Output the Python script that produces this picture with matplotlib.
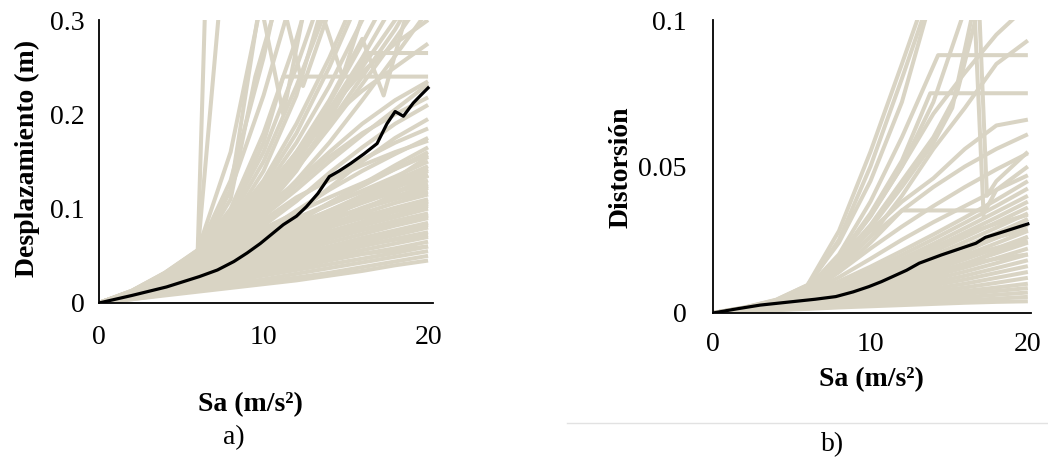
import matplotlib.pyplot as plt

plt.rcParams['font.family'] = ['Liberation Serif', 'DejaVu Serif']

W, H = 1048, 458
BEIGE = '#d9d4c4'
LW = 2.9

# common Sa grid (m/s2) used by most curves
sa_grid = [0, 2, 4, 6, 8, 10, 12, 14, 16, 18, 20]

# ---- panel a) : displacement (m) ----
disp_curves = [
    [0, .004, .008, .012, .016, .020, .024, .029, .034, .040, .045],
    [0, .004, .009, .014, .018, .022, .027, .032, .038, .044, .050],
    [0, .005, .010, .015, .020, .025, .031, .037, .043, .049, .055],
    [0, .005, .011, .017, .023, .029, .035, .041, .047, .053, .060],
    [0, .006, .012, .019, .026, .032, .038, .045, .052, .058, .065],
    [0, .006, .013, .020, .028, .035, .042, .049, .056, .063, .070],
    [0, .007, .014, .022, .030, .038, .045, .052, .060, .068, .075],
    [0, .007, .015, .024, .033, .041, .049, .057, .064, .072, .080],
    [0, .007, .016, .026, .036, .044, .052, .060, .069, .077, .085],
    [0, .008, .017, .028, .038, .047, .055, .064, .073, .082, .090],
    [0, .008, .018, .030, .040, .049, .058, .068, .078, .087, .095],
    [0, .008, .019, .031, .042, .052, .062, .072, .082, .091, .100],
    [0, .009, .020, .033, .045, .055, .065, .076, .086, .097, .105],
    [0, .009, .021, .034, .047, .058, .069, .080, .091, .101, .110],
    [0, .009, .022, .036, .049, .061, .072, .084, .095, .106, .115],
    [0, .010, .023, .038, .052, .064, .076, .088, .100, .111, .122],
    [0, .010, .024, .040, .054, .067, .080, .093, .106, .118, .130],
    [0, .010, .025, .042, .057, .070, .084, .098, .112, .126, .140],
    [0, .011, .026, .044, .060, .074, .089, .104, .119, .134, .150],
    [0, .006, .014, .024, .036, .050, .062, .070, .078, .085, .092],
    [0, .007, .016, .027, .040, .056, .070, .082, .092, .100, .108],
    [0, .008, .018, .030, .044, .062, .080, .095, .108, .118, .126],
    [0, .005, .012, .020, .030, .045, .062, .080, .098, .116, .135],
    [0, .006, .013, .022, .033, .048, .066, .088, .110, .132, .155],
    [0, .009, .021, .035, .050, .066, .085, .106, .126, .146, .165],
    [0, .010, .023, .038, .055, .075, .098, .120, .140, .158, .175],
    [0, .011, .025, .043, .062, .085, .110, .132, .152, .170, .185],
    [0, .008, .019, .032, .048, .070, .095, .122, .150, .175, .195],
    [0, .010, .024, .041, .060, .082, .108, .138, .165, .190, .210],
    [0, .011, .027, .047, .070, .095, .125, .155, .180, .200, .218],
    [0, .012, .028, .050, .075, .100, .128, .160, .190, .215, .235],
    [0, .012, .030, .054, .085, .120, .158, .195, .225, .250, .275],
    [0, .011, .027, .048, .078, .115, .160, .205, .245, .275, .300],
    [0, .005, .011, .018, .026, .034, .040, .046, .052, .056, .060],
    [0, .006, .013, .021, .029, .037, .046, .054, .061, .067, .072],
    [0, .007, .015, .025, .035, .043, .050, .058, .066, .074, .083],
    [0, .008, .017, .027, .036, .046, .057, .068, .077, .085, .093],
    [0, .008, .018, .029, .041, .053, .063, .073, .083, .093, .103],
    [0, .009, .020, .032, .044, .057, .070, .081, .090, .098, .107],
    [0, .009, .021, .035, .048, .060, .073, .087, .101, .113, .124],
    [0, .010, .022, .037, .051, .064, .078, .093, .108, .122, .136],
    [0, .010, .024, .040, .055, .068, .082, .098, .114, .130, .145],
    [0, .011, .025, .042, .058, .072, .088, .106, .124, .142, .160],
    [0, .007, .016, .028, .043, .060, .077, .090, .100, .110, .118],
    [0, .008, .018, .031, .047, .064, .081, .097, .112, .124, .135],
    [0, .009, .020, .034, .052, .072, .090, .105, .118, .130, .142],
    [0, .010, .023, .040, .060, .079, .096, .112, .127, .142, .157],
    [0, .011, .026, .045, .066, .088, .112, .130, .146, .160, .172],
    [0, .013, .032, .056, .160, .330, .500, .600, .700, .800, .900],
    [0, .012, .030, .052, .120, .220, .340, .450, .550, .650, .750],
    [0, .012, .030, .054, .100, .180, .280, .400, .500, .600, .700],
    [0, .011, .028, .050, .090, .150, .230, .320, .420, .520, .620],
    [0, .012, .029, .051, .085, .130, .190, .260, .340, .420, .500],
    [0, .010, .026, .046, .080, .120, .170, .230, .300, .380, .450],
    [0, .011, .027, .048, .075, .110, .155, .205, .260, .320, .400],
    [0, .012, .031, .055, .130, .260, .420, .550, .650, .750, .850],
    [0, .009, .024, .044, .072, .105, .145, .190, .240, .290, .350],
    [0, .010, .025, .045, .074, .108, .150, .200, .250, .300, .330],
    [0, .009, .022, .040, .065, .095, .130, .170, .215, .262, .310],
    [0, .010, .024, .042, .066, .092, .120, .150, .178, .205, .232],
    [0, .012, .029, .053, .095, .160, .250, .350, .450, .550, .650],
    [0, .011, .028, .049, .082, .125, .180, .250, .330, .410, .490],
    [0, .011, .027, .047, .076, .112, .158, .212, .275, .340, .400],
    [0, .010, .025, .044, .070, .102, .142, .186, .232, .280, .330],
]
# curves with their own Sa points (plateaus, steep and zig-zag ones)
disp_extra_sa = [
    [0, 2, 4, 6, 8, 10, 11.2, 20],
    [0, 2, 4, 6, 8, 10, 12, 14, 16.3, 20],
    [0, 2, 4, 6, 6.6],
    [0, 2, 4, 6, 7.4],
    [0, 2, 4, 6, 8, 9.8, 11.2, 12.8],
    [0, 2, 4, 6, 8, 10, 12, 13.5, 14.8, 16.3],
    [0, 2, 4, 6, 8, 10, 12, 14, 16, 17.3, 18.9],
    [0, 2, 4, 6, 8, 9.5, 11, 12.4, 14.2],
]
disp_extra = [
    [0, .012, .029, .052, .095, .170, .240, .240],
    [0, .011, .026, .045, .068, .098, .140, .195, .265, .265],
    [0, .013, .032, .056, .400],
    [0, .013, .031, .054, .330],
    [0, .012, .030, .053, .120, .320, .200, .340],
    [0, .011, .028, .050, .085, .140, .220, .310, .240, .320],
    [0, .010, .026, .046, .075, .115, .160, .215, .280, .220, .320],
    [0, .012, .029, .052, .110, .240, .330, .230, .320],
]
median_sa_a = [0, 2.0, 4.1, 6.1, 7.2, 8.2, 9.0, 9.8, 10.5, 11.2, 12.0, 12.6, 13.3, 14.0,
               14.6, 15.3, 16.1, 16.9, 17.5, 18.0, 18.5, 19.1, 19.6, 20.0]
median_disp = [0, .008, .017, .028, .035, .044, .053, .063, .073, .083, .092, .102, .116, .134,
               .140, .148, .158, .169, .190, .203, .198, .212, .221, .228]

# ---- panel b) : drift ----
drift_curves = [
    [0, .0005, .0010, .0014, .0019, .0023, .0027, .0031, .0035, .0038, .0040],
    [0, .0005, .0011, .0016, .0022, .0027, .0033, .0038, .0043, .0049, .0055],
    [0, .0006, .0012, .0018, .0025, .0032, .0039, .0046, .0054, .0062, .0070],
    [0, .0006, .0013, .0020, .0028, .0037, .0046, .0055, .0065, .0075, .0085],
    [0, .0007, .0014, .0022, .0031, .0041, .0052, .0063, .0075, .0087, .0100],
    [0, .0007, .0015, .0024, .0035, .0047, .0060, .0073, .0087, .0103, .0120],
    [0, .0008, .0016, .0026, .0038, .0052, .0067, .0083, .0100, .0120, .0140],
    [0, .0008, .0017, .0028, .0041, .0057, .0075, .0094, .0114, .0137, .0160],
    [0, .0009, .0018, .0030, .0045, .0063, .0083, .0104, .0127, .0153, .0180],
    [0, .0009, .0019, .0032, .0049, .0069, .0091, .0115, .0141, .0170, .0200],
    [0, .0010, .0020, .0034, .0052, .0074, .0099, .0126, .0155, .0187, .0220],
    [0, .0010, .0021, .0036, .0056, .0080, .0107, .0137, .0169, .0204, .0240],
    [0, .0011, .0022, .0038, .0060, .0086, .0115, .0148, .0183, .0221, .0260],
    [0, .0011, .0023, .0040, .0064, .0092, .0124, .0159, .0197, .0238, .0280],
    [0, .0012, .0024, .0042, .0068, .0098, .0133, .0171, .0212, .0256, .0300],
    [0, .0012, .0025, .0044, .0072, .0105, .0142, .0183, .0227, .0273, .0320],
    [0, .0013, .0026, .0046, .0076, .0112, .0152, .0196, .0243, .0291, .0340],
    [0, .0013, .0027, .0049, .0081, .0120, .0162, .0209, .0259, .0309, .0360],
    [0, .0014, .0028, .0052, .0087, .0128, .0173, .0222, .0274, .0326, .0380],
    [0, .0014, .0030, .0055, .0093, .0137, .0185, .0236, .0290, .0345, .0400],
    [0, .0015, .0031, .0058, .0100, .0147, .0198, .0252, .0308, .0365, .0425],
    [0, .0015, .0033, .0062, .0108, .0158, .0212, .0268, .0326, .0386, .0450],
    [0, .0008, .0017, .0030, .0050, .0078, .0110, .0140, .0165, .0185, .0200],
    [0, .0010, .0021, .0037, .0060, .0090, .0126, .0162, .0195, .0222, .0245],
    [0, .0011, .0024, .0043, .0070, .0105, .0148, .0190, .0228, .0258, .0285],
    [0, .0007, .0015, .0026, .0042, .0063, .0090, .0125, .0165, .0210, .0260],
    [0, .0009, .0019, .0033, .0053, .0080, .0115, .0158, .0208, .0262, .0320],
    [0, .0012, .0026, .0047, .0080, .0125, .0175, .0225, .0268, .0305, .0335],
    [0, .0016, .0035, .0066, .0122, .0185, .0250, .0310, .0365, .0420, .0470],
    [0, .0016, .0037, .0070, .0140, .0220, .0295, .0365, .0430, .0490, .0545],
    [0, .0017, .0039, .0075, .0160, .0260, .0350, .0430, .0500, .0560, .0610],
    [0, .0017, .0040, .0078, .0170, .0280, .0380, .0460, .0560, .0640, .0660],
    [0, .0016, .0038, .0072, .0150, .0260, .0400, .0560, .0700, .0850, .0930],
    [0, .0017, .0041, .0082, .0190, .0330, .0500, .0680, .0820, .0950, .1050],
    [0, .0019, .0045, .0095, .0240, .0450, .0720, .1100, .1500, .1800, .2000],
]
drift_extra_sa = [
    [0, 2, 4, 6, 8, 10, 12, 17.3, 18, 20],
    [0, 2, 4, 6, 8, 10, 12, 13.8, 20],
    [0, 2, 4, 6, 8, 10, 12, 14.3, 20],
    [0, 2, 4, 6, 8, 10, 12, 14, 15.5, 16.9, 17.4, 18, 20],
    [0, 2, 4, 6, 8, 10, 12, 14, 15.2, 16.6, 17.2],
    [0, 2, 4, 6, 8, 10, 12, 13.3],
    [0, 2, 4, 6, 8, 10, 12, 13.6],
    [0, 2, 4, 6, 8, 10, 12, 14, 15.9],
]
drift_extra = [
    [0, .0016, .0037, .0068, .0140, .0240, .0350, .0350, .0420, .0500],
    [0, .0017, .0040, .0080, .0190, .0340, .0520, .0750, .0750],
    [0, .0018, .0042, .0085, .0200, .0380, .0600, .0880, .0880],
    [0, .0017, .0040, .0080, .0180, .0300, .0450, .0600, .0750, .1050, .0400, .0450, .0550],
    [0, .0017, .0039, .0078, .0170, .0290, .0430, .0580, .0700, .1050, .0320],
    [0, .0018, .0044, .0095, .0280, .0550, .0850, .1050],
    [0, .0018, .0043, .0090, .0250, .0500, .0800, .1050],
    [0, .0017, .0040, .0082, .0190, .0330, .0500, .0720, .1020],
]
median_sa_b = [0, 1.5, 3.0, 5.1, 6.5, 7.8, 8.9, 9.9, 10.7, 11.4, 12.3, 13.1, 14.5, 15.6, 16.7,
               17.3, 18.6, 20.0]
median_drift = [0, .0014, .0027, .0039, .0047, .0056, .0072, .0090, .0107, .0124, .0146, .0170,
                .0198, .0218, .0238, .0258, .0280, .0304]


fig = plt.figure(figsize=(W / 100, H / 100), dpi=100)


def px_axes(left, top, right, bottom):
    return fig.add_axes([left / W, 1 - bottom / H, (right - left) / W, (bottom - top) / H])


def style(ax, xmax, ymax, yticks, ylabels, xpad, ypad):
    ax.set_xlim(0, xmax)
    ax.set_ylim(0, ymax)
    ax.set_xticks([0, 10, 20])
    ax.set_xticklabels(['0', '10', '20'])
    ax.set_yticks(yticks)
    ax.set_yticklabels(ylabels)
    for s in ['top', 'right']:
        ax.spines[s].set_visible(False)
    for s in ['left', 'bottom']:
        ax.spines[s].set_linewidth(1.3)
        ax.spines[s].set_zorder(5)
    ax.tick_params(axis='x', length=0, pad=xpad, labelsize=20)
    ax.tick_params(axis='y', length=0, pad=ypad, labelsize=20)


# panel a
ax1 = px_axes(99, 20, 433, 303)
for ys in disp_curves:
    ax1.plot(sa_grid, ys, color=BEIGE, lw=LW, solid_capstyle='butt')
for xs, ys in zip(disp_extra_sa, disp_extra):
    ax1.plot(xs, ys, color=BEIGE, lw=LW, solid_capstyle='butt')
ax1.plot(median_sa_a, median_disp, color='black', lw=2.3, zorder=4)
style(ax1, 20.3, 0.3, [0, 0.1, 0.2, 0.3], ['0', '0.1', '0.2', '0.3'], 16, 10)

# panel b
ax2 = px_axes(713, 20, 1031, 313)
for ys in drift_curves:
    ax2.plot(sa_grid, ys, color=BEIGE, lw=LW, solid_capstyle='butt')
for xs, ys in zip(drift_extra_sa, drift_extra):
    ax2.plot(xs, ys, color=BEIGE, lw=LW, solid_capstyle='butt')
ax2.plot(median_sa_b, median_drift, color='black', lw=2.3, zorder=4)
style(ax2, 20.2, 0.1, [0, 0.05, 0.1], ['0', '0.05', '0.1'], 14, 19)


def ftext(x, y, s, **kw):
    fig.text(x / W, 1 - y / H, s, ha='center', va='center', **kw)


ftext(27, 158, 'Desplazamiento (m)', rotation=90, fontsize=20, fontweight='bold')
ftext(250, 405, 'Sa (m/s²)', fontsize=20, fontweight='bold')
ftext(234, 438, 'a)', fontsize=20)

ftext(621, 167, 'Distorsión', rotation=90, fontsize=20, fontweight='bold')
ftext(871, 380, 'Sa (m/s²)', fontsize=20, fontweight='bold')
ftext(833, 445, 'b)', fontsize=20)

fig.add_artist(plt.Line2D([567 / W, 1], [1 - 423 / H, 1 - 423 / H], color='#e2e2e2', lw=1))

fig.savefig('out.png', dpi=100)
